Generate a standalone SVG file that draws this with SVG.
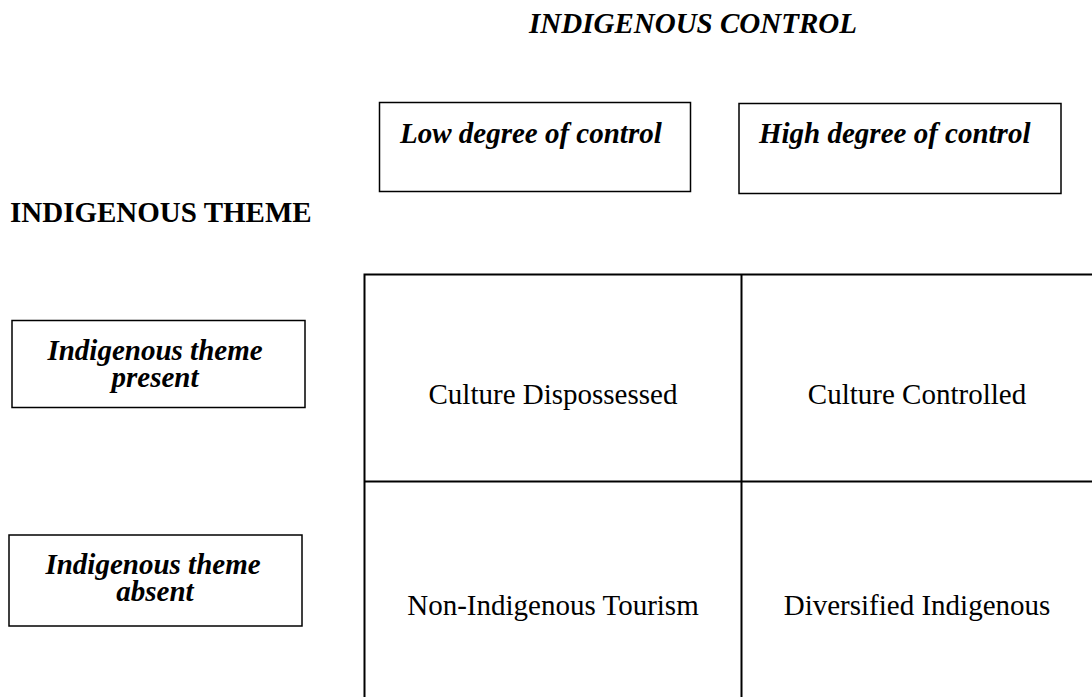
<svg xmlns="http://www.w3.org/2000/svg" width="1092" height="697" viewBox="0 0 1092 697">
  <style>
    text { font-family: "Liberation Serif", "Times New Roman", serif; font-size: 29px; fill: #000; }
    .bi { font-weight: bold; font-style: italic; }
    .b { font-weight: bold; }
    .mid { text-anchor: middle; }
    .box { fill: #fff; stroke: #000; stroke-width: 1.5; }
    .grid { stroke: #000; stroke-width: 2; fill: none; }
  </style>
  <rect width="1092" height="697" fill="#fff"/>

  <!-- axis headings -->
  <g id="heading-control">
    <text class="bi" x="529" y="33">INDIGENOUS CONTROL</text>
  </g>
  <g id="heading-theme">
    <text class="b" x="10" y="222">INDIGENOUS THEME</text>
  </g>

  <!-- column headers -->
  <g id="col-low">
    <rect class="box" x="379.5" y="102.5" width="311" height="89"/>
    <text class="bi" x="400" y="143">Low degree of control</text>
  </g>
  <g id="col-high">
    <rect class="box" x="739" y="103.5" width="322" height="90"/>
    <text class="bi" x="759" y="143">High degree of control</text>
  </g>

  <!-- row headers -->
  <g id="row-present">
    <rect class="box" x="12" y="320.5" width="293" height="87"/>
    <text class="bi mid" x="155" y="360">Indigenous theme</text>
    <text class="bi mid" x="155" y="387">present</text>
  </g>
  <g id="row-absent">
    <rect class="box" x="9" y="535" width="293" height="91"/>
    <text class="bi mid" x="153" y="574">Indigenous theme</text>
    <text class="bi mid" x="155" y="601">absent</text>
  </g>

  <!-- matrix lines -->
  <g id="connectors">
    <path class="grid" d="M364.5 697 V274.5 H1092 M741.5 274.5 V697 M364.5 481.5 H1092"/>
  </g>

  <!-- matrix cells -->
  <g id="cell-dispossessed">
    <text class="mid" x="553" y="404">Culture Dispossessed</text>
  </g>
  <g id="cell-controlled">
    <text class="mid" x="917" y="404">Culture Controlled</text>
  </g>
  <g id="cell-non-indigenous">
    <text class="mid" x="553" y="615">Non-Indigenous Tourism</text>
  </g>
  <g id="cell-diversified">
    <text class="mid" x="917" y="615">Diversified Indigenous</text>
  </g>
</svg>
